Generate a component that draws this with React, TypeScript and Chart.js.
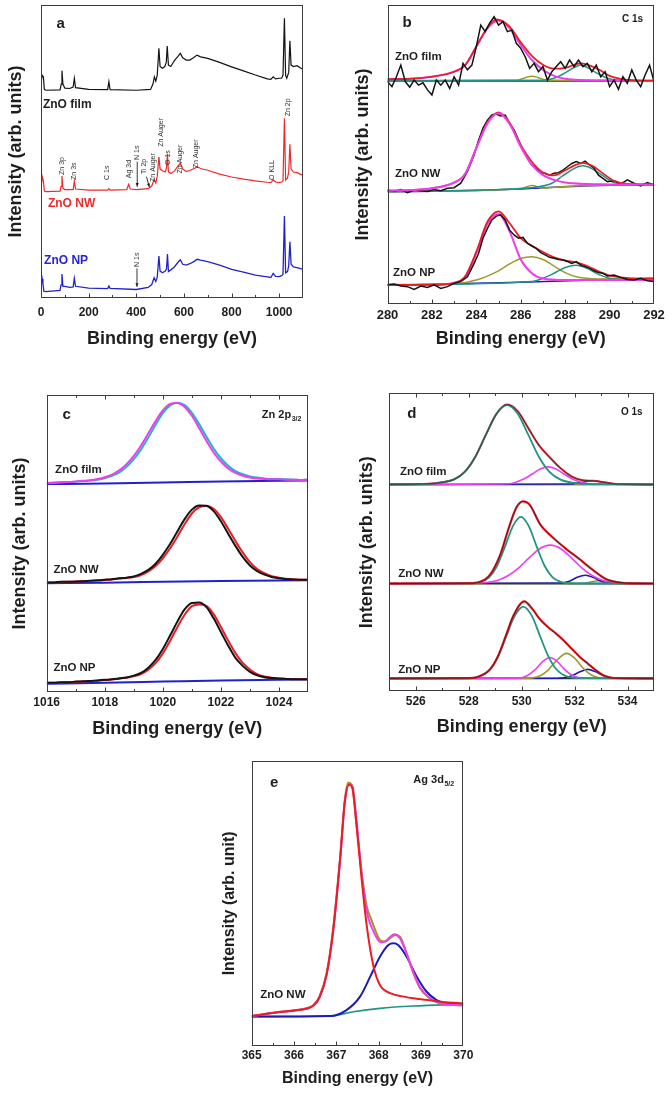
import React, { useEffect, useRef } from "react";
import { Chart, registerables } from "chart.js";

Chart.register(...registerables);

const FONT = "'Liberation Sans', Arial, Helvetica, sans-serif";
const INK = "#1e1e1e";

// ================= Panel a : survey spectra =================
const surveyTicks = [0, 200, 400, 600, 800, 1000];
const surveyFilmE = [0, 5, 10, 14, 20, 80, 85, 88, 92, 100, 120, 135, 140, 145, 200, 280, 285, 290, 400, 460, 470, 476, 482, 488, 495, 500, 510, 520, 526, 530, 535, 545, 560, 575, 585, 595, 610, 625, 640, 655, 670, 700, 750, 800, 850, 900, 950, 965, 975, 985, 1000, 1010, 1016, 1022, 1027, 1032, 1040, 1045, 1050, 1060, 1075, 1090, 1100];
const surveyFilmI = [73.5, 76.0, 75.5, 71.2, 70.9, 71.0, 73.0, 77.6, 73.0, 71.6, 71.5, 72.0, 75.0, 71.8, 71.2, 71.1, 73.8, 71.1, 70.9, 71.2, 73.0, 75.5, 74.0, 76.0, 85.2, 79.0, 78.4, 79.0, 80.5, 86.0, 79.5, 79.0, 81.0, 82.5, 83.5, 82.0, 81.2, 81.2, 82.0, 82.9, 82.3, 81.8, 80.4, 78.9, 77.5, 76.1, 74.8, 74.6, 75.5, 74.8, 75.0, 75.0, 76.0, 95.5, 76.0, 75.0, 77.0, 87.8, 79.5, 79.0, 79.3, 78.5, 78.1];
const surveyNwE = [0, 5, 10, 14, 20, 80, 84, 88, 92, 100, 135, 140, 145, 200, 280, 285, 290, 360, 368, 375, 400, 450, 465, 475, 482, 488, 495, 500, 510, 522, 527, 531, 535, 545, 560, 575, 585, 595, 610, 625, 645, 655, 670, 700, 750, 800, 850, 900, 950, 965, 975, 985, 1000, 1010, 1016, 1022, 1027, 1035, 1040, 1045, 1050, 1060, 1075, 1090, 1100];
const surveyNwI = [37.0, 41.5, 40.0, 36.5, 36.3, 36.5, 38.0, 41.6, 37.5, 37.0, 37.0, 39.9, 37.2, 36.8, 36.8, 37.3, 36.8, 37.0, 38.8, 37.2, 37.0, 37.3, 38.2, 40.5, 39.2, 41.5, 48.2, 44.0, 43.4, 43.0, 44.5, 49.1, 43.0, 42.5, 43.3, 45.0, 46.0, 44.0, 43.2, 43.5, 44.3, 44.8, 44.2, 43.6, 42.3, 41.3, 40.6, 40.0, 39.5, 39.4, 40.3, 39.6, 39.4, 39.6, 40.0, 61.3, 40.3, 41.0, 43.0, 52.5, 44.0, 43.0, 42.8, 42.2, 42.0];
const surveyNpE = [0, 5, 8, 12, 20, 80, 84, 88, 92, 100, 120, 135, 140, 145, 200, 280, 285, 290, 400, 450, 465, 475, 482, 488, 495, 500, 510, 522, 527, 531, 535, 545, 560, 575, 585, 595, 610, 625, 645, 655, 670, 700, 750, 800, 850, 900, 950, 965, 975, 985, 1000, 1010, 1016, 1022, 1027, 1035, 1040, 1045, 1050, 1060, 1075, 1090, 1100];
const surveyNpI = [3.5, 6.5, 5.0, 2.3, 2.2, 2.6, 4.5, 8.2, 4.0, 4.0, 3.6, 3.8, 6.7, 4.0, 3.4, 3.2, 4.1, 3.3, 2.9, 3.6, 4.6, 6.9, 5.6, 7.0, 14.3, 9.2, 8.6, 9.2, 10.0, 15.0, 9.0, 9.6, 10.6, 12.2, 13.0, 11.5, 11.2, 11.7, 12.6, 13.2, 12.9, 12.4, 11.2, 9.8, 8.8, 7.8, 7.2, 7.0, 8.4, 7.4, 7.3, 7.6, 8.0, 28.0, 8.6, 9.0, 11.0, 19.2, 11.5, 10.6, 10.4, 10.0, 9.8];
const surveyPeakNames = ["Zn 3p", "Zn 3s", "C 1s", "Ag 3d", "N 1s", "Ti 2p", "Zn Auger", "Zn Auger", "O 1s", "Zn Auger", "Zn Auger", "O KLL", "Zn 2p", "N 1s"];
const surveyPeakE = [89, 140, 278, 369, 404, 433, 472, 503, 534, 583, 650, 970, 1036, 403];
const surveyPeakV = [42.0, 40.3, 40.3, 40.9, 47.1, 42.3, 39.6, 51.6, 45.4, 42.5, 44.3, 40.3, 62.0, 10.6];

// ================= Panel b : C 1s =================
const c1sTicks = [280, 282, 284, 286, 288, 290, 292];
const c1sFilmDataE = Array.from({ length: 61 }, (_, i) => 280 + i * 0.2);
const c1sFilmDataI = [74.4, 72.7, 76.0, 79.9, 74.4, 72.5, 74.9, 73.2, 74.0, 71.6, 69.9, 74.9, 73.2, 74.9, 72.1, 76.0, 73.2, 80.5, 78.3, 79.9, 86.1, 93.3, 91.1, 93.9, 96.1, 93.3, 94.4, 91.1, 91.6, 87.2, 85.5, 82.7, 78.8, 80.5, 77.7, 79.4, 74.9, 77.7, 79.4, 81.0, 78.8, 81.6, 79.4, 81.6, 79.4, 80.5, 77.7, 79.9, 76.0, 77.7, 72.7, 74.9, 71.8, 76.0, 73.8, 78.3, 74.9, 72.7, 76.6, 79.9, 74.4];
const c1sFilmMainE = [280, 281, 282, 283, 283.5, 284, 284.5, 285, 285.5, 286, 286.5, 287, 287.5, 288, 289, 292];
const c1sFilmMainI = [75.2, 75.3, 76.0, 77.7, 79.9, 86.1, 92.2, 94.8, 92.2, 86.6, 81.6, 78.3, 76.3, 75.3, 74.8, 74.7];
const c1sFilmSumE = [280, 281, 282, 283, 283.5, 284, 284.5, 284.9, 285.5, 286, 286.5, 287, 287.5, 288, 288.7, 289.5, 290, 290.5, 291, 292];
const c1sFilmSumI = [75.2, 75.3, 76.0, 77.7, 79.9, 86.1, 92.5, 95.2, 92.8, 87.5, 83.0, 80.0, 78.7, 79.0, 80.5, 78.5, 76.3, 75.3, 74.9, 74.7];
const c1sFilmCooE = [280, 287, 287.5, 288, 288.4, 288.7, 289, 289.4, 289.9, 290.5, 292];
const c1sFilmCooI = [74.7, 74.8, 75.5, 77.3, 79.1, 79.9, 79.1, 77.3, 75.5, 74.8, 74.7];
const c1sFilmCoE = [280, 285.8, 286.2, 286.5, 286.8, 287.2, 292];
const c1sFilmCoI = [74.7, 74.8, 75.7, 76.2, 75.7, 74.8, 74.7];
const c1sFilmBgE = [280, 292];
const c1sFilmBgI = [74.6, 74.6];

const c1sDataE = [280, 280.3, 280.6, 280.9, 281.2, 281.5, 281.8, 282.1, 282.4, 282.7, 283.0, 283.3, 283.6, 283.9, 284.1, 284.3, 284.5, 284.7, 284.9, 285.1, 285.3, 285.5, 285.7, 285.9, 286.1, 286.3, 286.5, 286.7, 286.9, 287.1, 287.3, 287.5, 287.7, 287.9, 288.1, 288.3, 288.5, 288.7, 288.9, 289.1, 289.3, 289.5, 289.7, 289.9, 290.2, 290.5, 290.8, 291.1, 291.4, 291.7, 292.0];
const c1sNwDataI = [38.1, 37.6, 38.3, 37.2, 38.1, 37.9, 37.6, 38.3, 37.9, 38.7, 38.9, 40.4, 44.3, 49.8, 54.8, 58.8, 61.5, 63.2, 63.5, 62.9, 63.2, 60.4, 58.2, 54.8, 51.5, 48.7, 46.5, 45.4, 43.9, 43.7, 43.1, 43.7, 43.9, 44.8, 45.9, 47.0, 47.6, 47.0, 47.8, 46.5, 45.4, 43.1, 42.0, 40.9, 41.2, 40.1, 41.5, 40.4, 39.5, 40.6, 39.8];
const c1sNwMainE = [280, 281, 282, 283, 283.5, 284, 284.5, 285, 285.5, 286, 286.5, 287, 287.5, 288, 289, 290, 292];
const c1sNwMainI = [37.9, 38.1, 38.7, 40.6, 43.5, 52.1, 60.4, 63.8, 60.2, 52.6, 46.5, 43.1, 41.5, 40.6, 40.1, 40.0, 39.9];
const c1sNwSumE = [280, 281, 282, 283, 283.5, 284, 284.5, 285, 285.5, 286, 286.5, 287, 287.5, 288, 288.5, 288.8, 289.2, 289.7, 290.2, 290.8, 292];
const c1sNwSumI = [37.9, 38.1, 38.7, 40.6, 43.6, 52.3, 60.7, 64.1, 60.6, 53.2, 47.6, 44.0, 43.0, 44.7, 46.6, 47.2, 46.3, 43.7, 41.2, 40.2, 40.0];
const c1sNwCooE = [280, 286, 286.8, 287.4, 287.9, 288.4, 288.8, 289.2, 289.7, 290.2, 290.8, 292];
const c1sNwCooI = [37.6, 38.6, 39.2, 40.4, 42.9, 45.3, 46.2, 45.3, 42.9, 40.6, 39.9, 40.0];
const c1sNwCoE = [280, 284, 286, 286.5, 287, 288, 290, 292];
const c1sNwCoI = [37.6, 38.0, 38.6, 39.6, 38.8, 39.3, 39.8, 40.0];
const c1sNwBgE = [280, 284, 286, 288, 290, 292];
const c1sNwBgI = [37.5, 38.0, 38.5, 39.2, 39.7, 39.9];

const c1sNpDataI = [6.4, 6.7, 6.0, 5.8, 4.9, 6.0, 5.5, 6.4, 5.2, 5.8, 6.9, 7.5, 9.1, 13.6, 16.9, 22.0, 25.3, 28.1, 29.4, 29.8, 28.1, 24.7, 23.1, 22.0, 22.3, 20.3, 19.4, 18.6, 17.2, 16.4, 15.6, 15.3, 14.9, 14.7, 14.2, 13.6, 14.2, 13.0, 12.5, 11.9, 11.1, 10.5, 10.3, 9.4, 9.7, 8.9, 8.2, 8.0, 8.6, 7.8, 7.5];
const c1sNpMainE = [280, 282, 283, 283.5, 284, 284.5, 285, 285.5, 286, 286.5, 287, 288, 292];
const c1sNpMainI = [6.4, 6.4, 7.1, 9.1, 16.9, 26.8, 30.1, 24.2, 14.9, 10.3, 8.5, 8.0, 8.0];
const c1sNpCoE = [280, 283, 284, 285, 285.5, 286, 286.5, 287, 287.5, 288, 288.5, 289.5, 292];
const c1sNpCoI = [6.4, 6.7, 8.0, 11.1, 13.4, 15.2, 15.8, 14.9, 12.7, 10.5, 9.1, 8.4, 8.6];
const c1sNpCooE = [280, 286.5, 287, 287.5, 288, 288.5, 289, 289.5, 290, 290.5, 292];
const c1sNpCooI = [6.4, 7.5, 8.6, 10.3, 12.2, 13.0, 11.9, 9.9, 8.6, 8.2, 8.2];
const c1sNpBgE = [280, 286, 292];
const c1sNpBgI = [6.3, 7.3, 8.6];
const c1sNpSumE = [280, 282, 283, 283.5, 284, 284.5, 285, 285.5, 286, 286.5, 287, 287.5, 288, 288.5, 289, 289.5, 290, 290.5, 291, 292];
const c1sNpSumI = [6.4, 6.4, 7.0, 9.3, 17.5, 27.5, 31.0, 27.0, 22.0, 19.5, 17.4, 15.6, 14.6, 13.9, 12.7, 10.9, 9.5, 8.9, 8.6, 8.5];

// ================= Panel c : Zn 2p3/2 =================
const zn2pTicks = [1016, 1018, 1020, 1022, 1024];
const zn2pE = Array.from({ length: 37 }, (_, i) => 1016 + i * 0.25);
const zn2pFilmFit = [70.4, 70.4, 70.6, 70.7, 70.8, 71.0, 71.2, 71.5, 72.0, 72.8, 73.9, 75.8, 78.4, 81.7, 85.7, 90.0, 93.9, 96.5, 97.4, 96.6, 94.0, 90.2, 86.0, 82.0, 78.7, 76.2, 74.4, 73.3, 72.6, 72.2, 71.9, 71.7, 71.7, 71.6, 71.5, 71.4, 71.5];
const zn2pFilmData = [70.4, 70.5, 70.6, 70.7, 70.9, 71.1, 71.3, 71.7, 72.3, 73.2, 74.6, 76.7, 79.5, 83.0, 87.1, 91.2, 94.8, 97.0, 97.3, 96.0, 93.0, 88.9, 84.6, 80.7, 77.6, 75.3, 73.8, 72.8, 72.2, 71.9, 71.7, 71.6, 71.6, 71.5, 71.5, 71.4, 71.5];
const zn2pNwData = [36.9, 36.9, 37.1, 37.1, 37.2, 37.3, 37.5, 37.6, 37.8, 38.0, 38.3, 38.5, 38.9, 39.8, 41.1, 43.2, 46.2, 49.8, 54.0, 58.2, 61.4, 62.8, 62.7, 60.9, 57.5, 53.3, 49.2, 45.5, 42.6, 40.7, 39.5, 38.7, 38.3, 38.0, 37.9, 37.8, 37.8];
const zn2pNwFit = [36.9, 36.9, 37.0, 37.1, 37.2, 37.3, 37.4, 37.5, 37.7, 37.9, 38.2, 38.4, 38.7, 39.4, 40.6, 42.4, 45.0, 48.4, 52.3, 56.5, 60.1, 62.2, 62.6, 61.7, 58.9, 55.0, 50.8, 47.0, 43.7, 41.4, 40.0, 39.0, 38.5, 38.1, 37.9, 37.8, 37.8];
const zn2pNpData = [3.1, 3.1, 3.3, 3.3, 3.5, 3.6, 3.7, 3.9, 4.1, 4.3, 4.6, 4.9, 5.5, 6.4, 8.2, 10.8, 14.5, 19.0, 23.7, 27.8, 30.0, 30.1, 28.6, 24.8, 20.2, 15.6, 11.5, 8.8, 6.8, 5.6, 5.0, 4.7, 4.5, 4.4, 4.3, 4.3, 4.3];
const zn2pNpFit = [3.1, 3.1, 3.2, 3.3, 3.4, 3.5, 3.7, 3.8, 4.0, 4.2, 4.5, 4.8, 5.3, 6.0, 7.5, 9.7, 13.0, 17.2, 21.8, 26.0, 28.9, 29.5, 29.0, 26.2, 21.9, 17.3, 13.1, 9.8, 7.6, 6.0, 5.2, 4.8, 4.6, 4.4, 4.4, 4.3, 4.3];
const zn2pBgE = [1016, 1018, 1020, 1022, 1025];
const zn2pFilmBg = [70.0, 70.2, 70.5, 70.9, 71.2];
const zn2pNwBg = [36.6, 36.8, 37.1, 37.4, 37.6];
const zn2pNpBg = [2.8, 3.1, 3.5, 3.9, 4.2];

// ================= Panel d : O 1s =================
const o1sTicks = [526, 528, 530, 532, 534];
const o1sBgE = [525, 535];
const o1sFilmBgI = [69.3, 69.3];
const o1sNwBgI = [36.0, 36.0];
const o1sNpBgI = [4.2, 4.2];
const o1sFilmLatE = [525, 526.5, 527.0, 527.45, 527.85, 528.25, 528.65, 529.05, 529.45, 529.85, 530.25, 530.65, 531.05, 531.45, 531.9, 532.5, 535];
const o1sFilmLatI = [69.4, 69.6, 70.1, 71.1, 73.6, 78.7, 86.1, 93.1, 96.0, 93.1, 86.1, 78.7, 73.6, 71.1, 70.0, 69.5, 69.4];
const o1sFilmVacE = [525, 529.5, 529.8, 530.1, 530.4, 530.7, 531.0, 531.3, 531.6, 531.9, 532.2, 532.5, 535];
const o1sFilmVacI = [69.4, 69.6, 70.2, 71.3, 72.9, 74.6, 75.3, 74.6, 72.9, 71.3, 70.2, 69.6, 69.4];
const o1sFilmOhE = [525, 531.8, 532.2, 532.7, 533.2, 533.6, 535];
const o1sFilmOhI = [69.4, 69.5, 70.0, 70.6, 70.0, 69.5, 69.4];
const o1sFilmSumE = [525, 526.5, 527.0, 527.45, 527.85, 528.25, 528.65, 529.05, 529.45, 529.85, 530.25, 530.65, 531.05, 531.45, 531.9, 532.3, 532.7, 533.1, 533.6, 535];
const o1sFilmSumI = [69.4, 69.6, 70.1, 71.1, 73.6, 78.7, 86.1, 93.1, 96.2, 94.0, 88.3, 82.6, 78.6, 75.0, 72.0, 70.8, 70.6, 70.1, 69.5, 69.4];

const o1sNwLatE = [525, 528.0, 528.47, 528.77, 529.07, 529.37, 529.67, 529.97, 530.27, 530.57, 530.87, 531.17, 531.47, 531.8, 535];
const o1sNwLatI = [36.1, 36.15, 36.7, 38.2, 42.0, 48.5, 55.4, 58.5, 55.4, 48.5, 42.0, 38.2, 36.7, 36.2, 36.1];
const o1sNwVacE = [525, 528.3, 528.68, 529.08, 529.48, 529.88, 530.28, 530.68, 531.08, 531.48, 531.88, 532.28, 532.68, 533.08, 533.48, 534.0, 535];
const o1sNwVacI = [36.1, 36.3, 36.45, 37.1, 38.7, 41.3, 44.7, 47.8, 49.0, 47.8, 44.7, 41.3, 38.7, 37.1, 36.45, 36.2, 36.1];
const o1sNwOhE = [525, 531.5, 531.8, 532.1, 532.4, 532.7, 533.0, 533.3, 535];
const o1sNwOhI = [36.1, 36.27, 36.9, 38.2, 38.9, 38.2, 36.9, 36.27, 36.1];
const o1sNwH2oE = [525, 532.3, 532.6, 532.9, 533.2, 533.5, 535];
const o1sNwH2oI = [36.1, 36.15, 36.6, 37.0, 36.6, 36.15, 36.1];
const o1sNwSumE = [525, 528.0, 528.4, 528.8, 529.2, 529.5, 529.8, 530.05, 530.3, 530.7, 531.2, 531.7, 532.2, 532.7, 533.2, 533.6, 534.2, 535];
const o1sNwSumI = [36.1, 36.2, 36.6, 39.0, 46.0, 54.4, 61.6, 63.7, 62.6, 56.0, 51.4, 47.6, 44.2, 40.6, 37.5, 36.6, 36.15, 36.1];

const o1sNpLatE = [525, 528.0, 528.4, 528.8, 529.1, 529.4, 529.7, 530.06, 530.4, 530.7, 531.0, 531.3, 531.6, 531.9, 532.3, 535];
const o1sNpLatI = [4.25, 4.34, 4.9, 7.2, 11.4, 17.9, 24.6, 28.35, 25.0, 18.3, 11.8, 7.4, 5.3, 4.5, 4.3, 4.25];
const o1sNpVacE = [525, 529.9, 530.2, 530.5, 530.8, 531.07, 531.3, 531.6, 531.9, 532.2, 532.5, 535];
const o1sNpVacI = [4.25, 4.3, 5.1, 7.1, 9.95, 11.25, 10.3, 7.45, 5.3, 4.45, 4.3, 4.25];
const o1sNpH2oE = [525, 530.1, 530.4, 530.7, 531.0, 531.3, 531.7, 532.0, 532.3, 532.6, 532.9, 533.3, 535];
const o1sNpH2oI = [4.25, 4.3, 4.4, 5.1, 7.0, 10.05, 12.65, 11.05, 7.9, 5.55, 4.55, 4.3, 4.25];
const o1sNpOhE = [525, 531.3, 531.6, 531.9, 532.2, 532.5, 532.8, 533.1, 533.4, 533.7, 535];
const o1sNpOhI = [4.25, 4.3, 4.45, 5.15, 6.45, 7.25, 6.45, 5.15, 4.45, 4.3, 4.25];
const o1sNpSumE = [525, 528.0, 528.4, 528.8, 529.1, 529.4, 529.7, 530.1, 530.4, 530.7, 531.0, 531.3, 531.6, 531.9, 532.2, 532.5, 532.8, 533.1, 533.4, 533.8, 535];
const o1sNpSumI = [4.25, 4.34, 4.9, 7.2, 11.6, 18.5, 25.5, 30.1, 27.6, 24.0, 21.4, 19.3, 16.9, 14.1, 11.4, 9.2, 7.0, 5.2, 4.45, 4.3, 4.25];

// ================= Panel e : Ag 3d5/2 =================
const ag3dTicks = [365, 366, 367, 368, 369, 370];
const ag3dDataE = [365.0, 365.3, 365.67, 366.06, 366.3, 366.46, 366.6, 366.77, 366.93, 367.09, 367.2, 367.28, 367.36, 367.48, 367.6, 367.72, 367.83, 367.95, 368.03, 368.15, 368.27, 368.39, 368.5, 368.66, 368.82, 368.98, 369.21, 369.45, 369.6, 370.0];
const ag3dDataI = [10.5, 11.2, 12.0, 12.6, 13.3, 14.4, 17.3, 25.5, 41.9, 66.4, 86.3, 92.4, 91.6, 77.0, 60.6, 48.9, 44.2, 39.5, 37.2, 36.6, 37.8, 38.9, 38.4, 32.5, 25.5, 20.2, 16.7, 15.0, 14.4, 14.4];
const ag3dSumE = [365.0, 365.67, 366.06, 366.46, 366.6, 366.77, 366.93, 367.09, 367.2, 367.3, 367.38, 367.48, 367.6, 367.72, 367.83, 367.95, 368.05, 368.15, 368.27, 368.37, 368.5, 368.66, 368.82, 368.98, 369.21, 369.45, 369.6, 370.0];
const ag3dSumI = [10.5, 11.9, 12.5, 14.2, 17.0, 25.0, 41.0, 65.5, 85.5, 91.8, 91.0, 78.5, 60.0, 47.0, 41.8, 38.0, 36.4, 36.6, 38.2, 39.2, 37.8, 32.5, 25.8, 20.5, 16.8, 15.0, 14.6, 14.2];
const ag3dMetalE = [365.0, 365.67, 366.06, 366.46, 366.6, 366.77, 366.93, 367.09, 367.2, 367.3, 367.38, 367.48, 367.6, 367.72, 367.88, 368.03, 368.27, 368.6, 368.82, 369.2, 369.6, 370.0];
const ag3dMetalI = [10.5, 11.9, 12.5, 14.2, 17.0, 25.0, 41.0, 65.5, 85.5, 91.6, 90.5, 77.0, 58.2, 41.9, 27.8, 21.4, 18.5, 17.3, 16.7, 16.0, 15.3, 15.0];
const ag3dOxideE = [365.0, 366.85, 367.24, 367.56, 367.8, 368.03, 368.23, 368.35, 368.46, 368.66, 368.9, 369.13, 369.37, 369.6, 370.0];
const ag3dOxideI = [10.3, 10.5, 12.6, 17.3, 24.3, 31.3, 35.4, 36.0, 35.4, 31.3, 24.3, 19.1, 16.1, 15.0, 14.6];
const ag3dBgE = [365.0, 366.85, 367.4, 368.03, 368.82, 370.0];
const ag3dBgI = [10.3, 10.5, 12.0, 13.2, 14.0, 14.6];

// ================= chart construction =================
type Curve = { e: number[]; v: number[]; color: string; width: number; smooth: boolean };
type Label = { text: string; e: number; v: number; color?: string; size: number; bold?: boolean; rotate?: boolean; align?: CanvasTextAlign; sub?: string };
type Arrow = { e1: number; v1: number; e2: number; v2: number };
type Panel = {
  key: string; left: number; top: number; width: number; height: number;
  xMin: number; xMax: number; ticks: number[]; minorStep: number; topTicks: boolean;
  yAxisW: number; xAxisH: number; padTop: number; padRight: number;
  tickFont: number; tickPad: number; titleFont: number; titlePadBottom: number;
  yTitle: string; yTitlePad: number;
  curves: Curve[]; labels: Label[]; arrows: Arrow[];
};

const C = {
  black: "#141414", red: "#ec1c24", blue: "#2222cc", magenta: "#f03cf0", teal: "#1f9484",
  cyan: "#1fb2cc", olive: "#9c9a2a", navy: "#1c1cb4",
};
const cv = (e: number[], v: number[], color: string, width: number, smooth = true): Curve => ({ e, v, color, width, smooth });
const zoneLabel = (text: string, e: number, v: number, color = INK, size = 11.5): Label => ({ text, e, v, color, size, bold: true });

const panels: Panel[] = [
  {
    key: "a", left: 0, top: 0, width: 336, height: 350,
    xMin: 0, xMax: 1100, ticks: surveyTicks, minorStep: 100, topTicks: false,
    yAxisW: 41, xAxisH: 52, padTop: 5, padRight: 33,
    tickFont: 12, tickPad: 7.5, titleFont: 18, titlePadBottom: 0,
    yTitle: "Intensity (arb. units)", yTitlePad: 5,
    curves: [
      cv(surveyFilmE, surveyFilmI, C.black, 1.2, false),
      cv(surveyNwE, surveyNwI, "#f02828", 1.2, false),
      cv(surveyNpE, surveyNpI, C.blue, 1.3, false),
    ],
    labels: [
      { text: "a", e: 83, v: 93.5, size: 15, bold: true, align: "center" },
      zoneLabel("ZnO film", 8, 65.9, INK, 12),
      zoneLabel("ZnO NW", 29, 32.3, "#f02828", 12),
      zoneLabel("ZnO NP", 13, 12.6, "#2424d8", 12),
      ...surveyPeakNames.map((t, i) => ({ text: t, e: surveyPeakE[i], v: surveyPeakV[i], size: 7, bold: false, rotate: true, color: "#333" })),
    ],
    arrows: [
      { e1: 404, v1: 46.5, e2: 404, v2: 38.0 },
      { e1: 443, v1: 41.4, e2: 455, v2: 37.8 },
      { e1: 403, v1: 10.1, e2: 403, v2: 3.8 },
    ],
  },
  {
    key: "b", left: 336, top: 0, width: 336, height: 350,
    xMin: 280, xMax: 292, ticks: c1sTicks, minorStep: 1, topTicks: false,
    yAxisW: 51.5, xAxisH: 46, padTop: 5, padRight: 18,
    tickFont: 13, tickPad: 3.2, titleFont: 18, titlePadBottom: 0,
    yTitle: "Intensity (arb. units)", yTitlePad: 16.2,
    curves: [
      cv(c1sFilmBgE, c1sFilmBgI, C.navy, 1.5),
      cv(c1sFilmCoE, c1sFilmCoI, C.olive, 1.5),
      cv(c1sFilmCooE, c1sFilmCooI, C.teal, 1.5),
      cv(c1sFilmMainE, c1sFilmMainI, C.magenta, 2),
      cv(c1sFilmSumE, c1sFilmSumI, C.red, 1.7),
      cv(c1sFilmDataE, c1sFilmDataI, C.black, 1.5, false),
      cv(c1sNwBgE, c1sNwBgI, C.navy, 1.5),
      cv(c1sNwCoE, c1sNwCoI, C.olive, 1.5),
      cv(c1sNwCooE, c1sNwCooI, C.teal, 1.5),
      cv(c1sDataE, c1sNwDataI, C.black, 1.5, false),
      cv(c1sNwSumE, c1sNwSumI, C.red, 1.7),
      cv(c1sNwMainE, c1sNwMainI, C.magenta, 2),
      cv(c1sNpBgE, c1sNpBgI, C.navy, 1.5),
      cv(c1sNpCoE, c1sNpCoI, C.olive, 1.5),
      cv(c1sNpCooE, c1sNpCooI, C.teal, 1.5),
      cv(c1sNpMainE, c1sNpMainI, C.magenta, 2),
      cv(c1sNpSumE, c1sNpSumI, C.red, 1.8),
      cv(c1sDataE, c1sNpDataI, C.black, 1.5, false),
    ],
    labels: [
      { text: "b", e: 280.88, v: 94.0, size: 15, bold: true, align: "center" },
      { text: "C 1s", e: 291.03, v: 95.3, size: 10, bold: true, align: "center" },
      zoneLabel("ZnO film", 280.34, 82.7),
      zoneLabel("ZnO NW", 280.34, 43.5),
      zoneLabel("ZnO NP", 280.25, 10.4),
    ],
    arrows: [],
  },
  {
    key: "c", left: 0, top: 360, width: 336, height: 390,
    xMin: 1016, xMax: 1025, ticks: zn2pTicks, minorStep: 1, topTicks: true,
    yAxisW: 46.7, xAxisH: 58, padTop: 35, padRight: 28,
    tickFont: 12, tickPad: 3.8, titleFont: 18, titlePadBottom: 10.2,
    yTitle: "Intensity (arb. units)", yTitlePad: 9.2,
    curves: [
      cv(zn2pBgE, zn2pFilmBg, C.blue, 2),
      cv(zn2pE, zn2pFilmFit, C.cyan, 2),
      cv(zn2pE, zn2pFilmData, C.magenta, 2),
      cv(zn2pBgE, zn2pNwBg, C.blue, 2),
      cv(zn2pE, zn2pNwFit, C.red, 2),
      cv(zn2pE, zn2pNwData, C.black, 2),
      cv(zn2pBgE, zn2pNpBg, C.blue, 2),
      cv(zn2pE, zn2pNpFit, C.red, 2),
      cv(zn2pE, zn2pNpData, C.black, 2),
    ],
    labels: [
      { text: "c", e: 1016.69, v: 93.3, size: 15, bold: true, align: "center" },
      { text: "Zn 2p", e: 1023.41, v: 93.3, size: 11, bold: true, sub: "3/2" },
      zoneLabel("ZnO film", 1016.29, 74.7),
      zoneLabel("ZnO NW", 1016.23, 41.1),
      zoneLabel("ZnO NP", 1016.23, 8.0),
    ],
    arrows: [],
  },
  {
    key: "d", left: 336, top: 360, width: 336, height: 390,
    xMin: 525, xMax: 535, ticks: o1sTicks, minorStep: 1, topTicks: true,
    yAxisW: 53.3, xAxisH: 59, padTop: 33.3, padRight: 18,
    tickFont: 12, tickPad: 3.5, titleFont: 18, titlePadBottom: 11.7,
    yTitle: "Intensity (arb. units)", yTitlePad: 19.9,
    curves: [
      cv(o1sBgE, o1sFilmBgI, C.olive, 1.5),
      cv(o1sFilmOhE, o1sFilmOhI, C.navy, 1.5),
      cv(o1sFilmVacE, o1sFilmVacI, C.magenta, 1.6),
      cv(o1sFilmSumE, o1sFilmSumI, C.red, 2),
      cv(o1sFilmLatE, o1sFilmLatI, C.teal, 1.8),
      cv(o1sFilmSumE, o1sFilmSumI, "#3a3a3a", 0.9),
      cv(o1sBgE, o1sNwBgI, "#333", 1.5),
      cv(o1sNwH2oE, o1sNwH2oI, C.olive, 1.5),
      cv(o1sNwOhE, o1sNwOhI, C.navy, 1.6),
      cv(o1sNwVacE, o1sNwVacI, C.magenta, 1.6),
      cv(o1sNwLatE, o1sNwLatI, C.teal, 1.8),
      cv(o1sNwSumE, o1sNwSumI, C.red, 2.2),
      cv(o1sNwSumE, o1sNwSumI, "#3a1a1a", 0.8),
      cv(o1sBgE, o1sNpBgI, "#333", 1.5),
      cv(o1sNpOhE, o1sNpOhI, C.navy, 1.6),
      cv(o1sNpH2oE, o1sNpH2oI, C.olive, 1.6),
      cv(o1sNpVacE, o1sNpVacI, C.magenta, 1.6),
      cv(o1sNpLatE, o1sNpLatI, C.teal, 1.8),
      cv(o1sNpSumE, o1sNpSumI, C.red, 2.2),
      cv(o1sNpSumE, o1sNpSumI, "#3a1a1a", 0.8),
    ],
    labels: [
      { text: "d", e: 525.85, v: 93.2, size: 15, bold: true, align: "center" },
      { text: "O 1s", e: 534.16, v: 93.7, size: 10, bold: true, align: "center" },
      zoneLabel("ZnO film", 525.4, 73.6),
      zoneLabel("ZnO NW", 525.34, 39.5),
      zoneLabel("ZnO NP", 525.34, 7.0),
    ],
    arrows: [],
  },
  {
    key: "e", left: 180, top: 740, width: 320, height: 355,
    xMin: 365, xMax: 370, ticks: ag3dTicks, minorStep: 0.5, topTicks: false,
    yAxisW: 71.7, xAxisH: 49, padTop: 20.7, padRight: 36.7,
    tickFont: 12, tickPad: 2.8, titleFont: 16, titlePadBottom: 6.4,
    yTitle: "Intensity (arb. unit)", yTitlePad: 40.4,
    curves: [
      cv(ag3dBgE, ag3dBgI, C.teal, 1.6),
      cv(ag3dOxideE, ag3dOxideI, C.navy, 2),
      cv(ag3dDataE, ag3dDataI, "#a39424", 2),
      cv(ag3dSumE, ag3dSumI, C.magenta, 2),
      cv(ag3dMetalE, ag3dMetalI, C.red, 2),
    ],
    labels: [
      { text: "e", e: 365.53, v: 92.1, size: 15, bold: true, align: "center" },
      { text: "Ag 3d", e: 368.82, v: 93.2, size: 11, bold: true, sub: "5/2" },
      zoneLabel("ZnO NW", 365.2, 17.9),
    ],
    arrows: [],
  },
];

const xpsPlugin = {
  id: "xpsDecor",
  afterDatasetsDraw(chart: any, _args: any, opts: any) {
    const p: Panel = opts.panel;
    if (!p) return;
    const { ctx, chartArea } = chart;
    const xs = chart.scales.x;
    const ys = chart.scales.y;
    const L = Math.round(chartArea.left) + 0.5;
    const R = Math.round(chartArea.right) - 0.5;
    const T = Math.round(chartArea.top) + 0.5;
    const B = Math.round(chartArea.bottom) - 0.5;
    ctx.save();
    // frame
    ctx.strokeStyle = "#3c3c3c";
    ctx.lineWidth = 1;
    ctx.strokeRect(L, T, R - L, B - T);
    // inward ticks
    const n = Math.round((p.xMax - p.xMin) / p.minorStep);
    ctx.beginPath();
    for (let i = 1; i < n; i++) {
      const v = p.xMin + i * p.minorStep;
      const major = p.ticks.some((t) => Math.abs(t - v) < 1e-6);
      const len = major ? 4 : 2.5;
      const x = Math.round(xs.getPixelForValue(v)) + 0.5;
      ctx.moveTo(x, B);
      ctx.lineTo(x, B - len);
      if (p.topTicks) {
        ctx.moveTo(x, T);
        ctx.lineTo(x, T + len);
      }
    }
    ctx.stroke();
    // arrows
    ctx.strokeStyle = "#222";
    ctx.fillStyle = "#222";
    ctx.lineWidth = 0.9;
    for (const a of p.arrows) {
      const x1 = xs.getPixelForValue(a.e1), y1 = ys.getPixelForValue(a.v1);
      const x2 = xs.getPixelForValue(a.e2), y2 = ys.getPixelForValue(a.v2);
      const ang = Math.atan2(y2 - y1, x2 - x1);
      ctx.beginPath();
      ctx.moveTo(x1, y1);
      ctx.lineTo(x2, y2);
      ctx.stroke();
      ctx.beginPath();
      ctx.moveTo(x2, y2);
      ctx.lineTo(x2 - 4 * Math.cos(ang - 0.4), y2 - 4 * Math.sin(ang - 0.4));
      ctx.lineTo(x2 - 4 * Math.cos(ang + 0.4), y2 - 4 * Math.sin(ang + 0.4));
      ctx.closePath();
      ctx.fill();
    }
    // labels
    for (const lb of p.labels) {
      const px = xs.getPixelForValue(lb.e);
      const py = ys.getPixelForValue(lb.v);
      const weight = lb.bold === false ? "" : "bold ";
      ctx.fillStyle = lb.color || INK;
      ctx.font = `${weight}${lb.size}px ${FONT}`;
      ctx.textBaseline = "middle";
      if (lb.rotate) {
        ctx.save();
        ctx.translate(px, py);
        ctx.rotate(-Math.PI / 2);
        ctx.textAlign = "left";
        ctx.fillText(lb.text, 0, 0);
        ctx.restore();
      } else {
        ctx.textAlign = lb.align || "left";
        ctx.fillText(lb.text, px, py);
        if (lb.sub) {
          const w = ctx.measureText(lb.text).width;
          ctx.font = `${weight}${Math.round(lb.size * 0.62)}px ${FONT}`;
          ctx.textAlign = "left";
          ctx.fillText(lb.sub, px + w + 0.5, py + lb.size * 0.38);
        }
      }
    }
    ctx.restore();
  },
};

function buildConfig(p: Panel): any {
  return {
    type: "line",
    data: {
      datasets: p.curves.map((c, i) => ({
        data: c.e.map((x, j) => ({ x, y: c.v[j] })),
        borderColor: c.color,
        borderWidth: c.width,
        pointRadius: 0,
        fill: false,
        tension: 0,
        cubicInterpolationMode: c.smooth ? "monotone" : "default",
        order: -i,
      })),
    },
    options: {
      animation: false,
      responsive: false,
      devicePixelRatio: 1,
      events: [],
      layout: { padding: { left: 0, right: p.padRight, top: p.padTop, bottom: 0 } },
      plugins: {
        legend: { display: false },
        tooltip: { enabled: false },
        xpsDecor: { panel: p },
      },
      scales: {
        x: {
          type: "linear",
          min: p.xMin,
          max: p.xMax,
          afterBuildTicks: (s: any) => {
            s.ticks = p.ticks.map((v) => ({ value: v }));
          },
          afterFit: (s: any) => {
            s.height = p.xAxisH;
          },
          ticks: {
            autoSkip: false,
            maxRotation: 0,
            padding: p.tickPad,
            color: INK,
            font: { family: FONT, size: p.tickFont, weight: "bold" },
            callback: (v: any) => String(v),
          },
          grid: { display: false, drawTicks: false },
          border: { display: false },
          title: {
            display: true,
            text: "Binding energy (eV)",
            color: INK,
            font: { family: FONT, size: p.titleFont, weight: "bold" },
            padding: { top: 0, bottom: p.titlePadBottom },
          },
        },
        y: {
          type: "linear",
          min: 0,
          max: 100,
          afterFit: (s: any) => {
            s.width = p.yAxisW;
          },
          ticks: { display: false },
          grid: { display: false, drawTicks: false },
          border: { display: false },
          title: {
            display: true,
            text: p.yTitle,
            color: INK,
            font: { family: FONT, size: p.titleFont, weight: "bold" },
            padding: { top: p.yTitlePad, bottom: 0 },
          },
        },
      },
    },
    plugins: [xpsPlugin],
  };
}

function PanelChart({ p }: { p: Panel }) {
  const ref = useRef<HTMLCanvasElement | null>(null);
  useEffect(() => {
    if (!ref.current) return;
    const chart = new Chart(ref.current, buildConfig(p));
    return () => chart.destroy();
  }, [p]);
  return (
    <canvas
      ref={ref}
      width={p.width}
      height={p.height}
      style={{ position: "absolute", left: p.left, top: p.top, width: p.width, height: p.height }}
    />
  );
}

export default function App() {
  return (
    <div style={{ position: "absolute", left: 0, top: 0, width: 672, height: 1095, background: "#ffffff", overflow: "hidden" }}>
      {panels.map((p) => (
        <PanelChart key={p.key} p={p} />
      ))}
    </div>
  );
}
